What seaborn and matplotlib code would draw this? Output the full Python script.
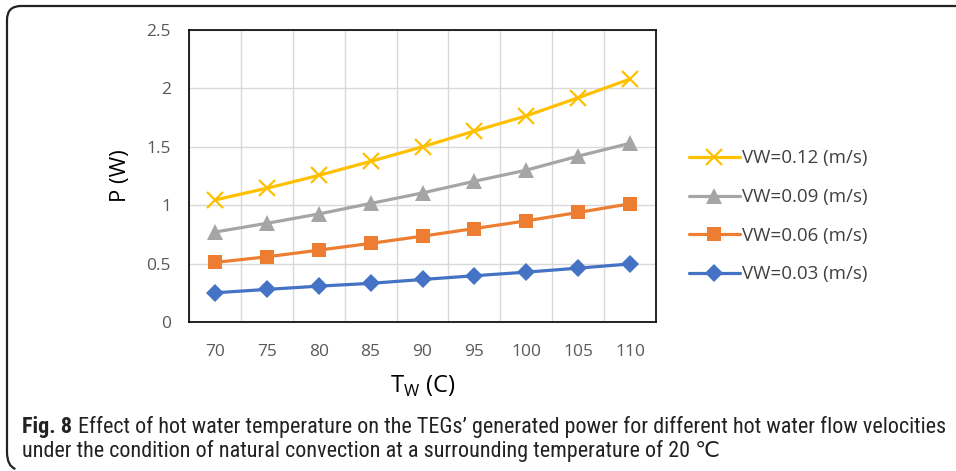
import numpy as np
import pandas as pd
import matplotlib
matplotlib.use("Agg")
import matplotlib.pyplot as plt
from matplotlib.path import Path
from matplotlib.patches import PathPatch
from matplotlib.lines import Line2D
import seaborn as sns

# data
temps = [70, 75, 80, 85, 90, 95, 100, 105, 110]
p_012 = [1.045, 1.145, 1.255, 1.375, 1.50, 1.635, 1.765, 1.92, 2.08]
p_009 = [0.77, 0.845, 0.925, 1.015, 1.105, 1.205, 1.30, 1.42, 1.53]
p_006 = [0.51, 0.558, 0.615, 0.673, 0.735, 0.80, 0.866, 0.938, 1.012]
p_003 = [0.25, 0.279, 0.307, 0.331, 0.364, 0.396, 0.427, 0.461, 0.497]

labels = ["VW=0.12 (m/s)", "VW=0.09 (m/s)", "VW=0.06 (m/s)", "VW=0.03 (m/s)"]
colors = ["#FFC000", "#A5A5A5", "#ED7D31", "#4472C4"]
markers = ["x", "^", "s", "D"]
msizes = [11, 11, 10.5, 9.5]

sns.set_style("white")
plt.rcParams['font.family'] = ['Open Sans', 'DejaVu Sans']

fig = plt.figure(figsize=(9.56, 4.71), dpi=100)
ax = fig.add_axes([189/956, 1-322/471, (656-189)/956, (322-30)/471])

x = np.arange(len(temps))
series = [p_012, p_009, p_006, p_003]
# draw bottom series first so yellow sits on top
for vals, lab, c, m, ms in reversed(list(zip(series, labels, colors, markers, msizes))):
    sns.lineplot(x=x, y=vals, ax=ax, color=c, marker=m, markersize=ms,
                 linewidth=2.3, markeredgecolor=c, markeredgewidth=1.6 if m == "x" else 0,
                 label=lab, legend=False)

ax.set_xlim(-0.5, len(temps) - 0.5)
ax.set_ylim(0, 2.5)
ax.set_yticks(np.arange(0, 2.51, 0.5))
ax.set_yticklabels(["0", "0.5", "1", "1.5", "2", "2.5"])
ax.set_xticks(x)
ax.set_xticklabels([str(t) for t in temps])
ax.set_xticks(np.arange(-0.5, len(temps)), minor=True)

ax.tick_params(axis="x", which="major", length=0, pad=16, labelsize=12.5, labelcolor="#595959")
ax.tick_params(axis="x", which="minor", length=5, width=1, color="black", direction="out")
ax.tick_params(axis="y", length=5, width=1, color="black", direction="out",
               labelsize=12.5, labelcolor="#595959", pad=8)

ax.grid(False)
ax.grid(True, which="minor", axis="x", color="#D9D9D9", linewidth=1)
ax.grid(True, which="major", axis="y", color="#D9D9D9", linewidth=1)
ax.set_axisbelow(True)
for s in ax.spines.values():
    s.set_color("black")
    s.set_linewidth(1.2)

ax.set_xlabel("T$_\\mathregular{W}$ (C)", fontsize=17, labelpad=10, color="black")
ax.set_ylabel("P (W)", fontsize=16, labelpad=11, color="black")

handles = [Line2D([], [], color=c, marker=m, markersize=ms, linewidth=2.3,
                  markeredgecolor=c, markeredgewidth=1.6 if m == "x" else 0)
           for c, m, ms in zip(colors, markers, msizes)]
fig.legend(handles, labels, loc="upper left", bbox_to_anchor=(681/956, 1-142/471),
           frameon=False, fontsize=13.5, handlelength=2.75, labelspacing=1.1,
           handletextpad=0.12, labelcolor="#404040", borderaxespad=0)

# partial rounded frame (top and left edges)
r = 14
top, left, bot = 471 - 6, 7, 471 - 466
verts = [(956, top), (left + r, top), (left, top), (left, top - r),
         (left, bot + r), (left, bot), (left + r * 0.6, bot - 3)]
codes = [Path.MOVETO, Path.LINETO, Path.CURVE3, Path.CURVE3,
         Path.LINETO, Path.CURVE3, Path.CURVE3]
verts = [(vx / 956, vy / 471) for vx, vy in verts]
fig.add_artist(PathPatch(Path(verts, codes), fill=False, edgecolor="#222222",
                         linewidth=1.6, transform=fig.transFigure))

# caption, sized so the first line spans the same width as in the figure
cap_font = ['Roboto Condensed', 'Liberation Sans Narrow', 'Liberation Sans', 'DejaVu Sans']
line1 = "Effect of hot water temperature on the TEGs\u2019 generated power for different hot water flow velocities"
line2 = "under the condition of natural convection at a surrounding temperature of 20 \u2103"
fs = 13
t1 = fig.text(22/956, 1-427/471, "Fig. 8", fontsize=fs, fontweight="bold",
              family=cap_font, va="center", color="#222222")
t2 = fig.text(0, 1-427/471, line1, fontsize=fs, family=cap_font, va="center", color="#222222")
t3 = fig.text(22/956, 1-451/471, line2, fontsize=fs, family=cap_font, va="center", color="#222222")
fig.canvas.draw()
w = t1.get_window_extent().width + 5 + t2.get_window_extent().width
fs = fs * (945 - 22) / w
for t in (t1, t2, t3):
    t.set_fontsize(fs)
fig.canvas.draw()
bb = t1.get_window_extent()
t2.set_x((bb.x1 + 5 * fs / 13) / 956)

fig.savefig("out.png", dpi=100)
